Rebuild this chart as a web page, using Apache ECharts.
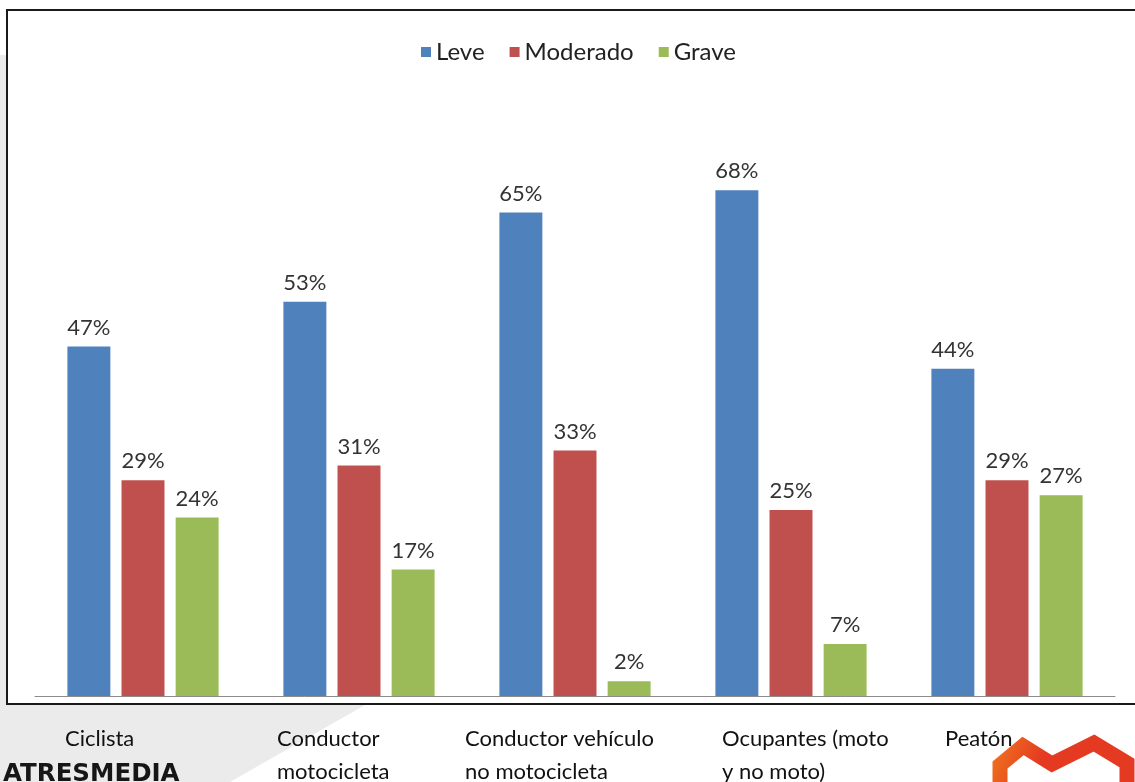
<!DOCTYPE html>
<html>
<head>
<meta charset="utf-8">
<script src="https://cdn.jsdelivr.net/npm/echarts@6/dist/echarts.min.js"></script>
<style>
html,body{margin:0;padding:0;background:#fff;}
#main{width:1135px;height:782px;}
</style>
</head>
<body>
<div id="main"></div>
<script>
const categories = ['Ciclista', 'Conductor\nmotocicleta', 'Conductor vehículo\nno motocicleta', 'Ocupantes (moto\ny no moto)', 'Peatón'];
const seriesNames = ['Leve', 'Moderado', 'Grave'];
const leve = [47, 53, 65, 68, 44];
const moderado = [29, 31, 33, 25, 29];
const grave = [24, 17, 2, 7, 27];
const colors = ['#4f81bd', '#c0504d', '#9bbb59'];
// horizontal nudges for the category text blocks (left padding, px)
const labelPads = [32, 28, 0, 41, 48];

const FONT = 'Lato';
const chart = echarts.init(document.getElementById('main'), null, {renderer: 'canvas'});

const labelStyle = {
  show: true, position: 'top', distance: 8,
  formatter: '{c}%', color: '#333', fontFamily: FONT, fontSize: 22
};

function bar(name, data, color) {
  return {
    name: name, type: 'bar', data: data,
    xAxisIndex: 0, yAxisIndex: 0,
    itemStyle: {color: color},
    barGap: '26%', barCategoryGap: '30%',
    label: labelStyle
  };
}

const rich = {};
labelPads.forEach((p, i) => {
  rich['s' + i] = {padding: [0, 0, 0, p], fontFamily: FONT, fontSize: 22, color: '#111', lineHeight: 33, align: 'left'};
});

chart.setOption({
  animation: false,
  backgroundColor: '#fff',
  color: colors,
  legend: {
    left: 416, top: 35,
    itemWidth: 10, itemHeight: 10, itemGap: 25,
    icon: 'rect',
    textStyle: {fontFamily: FONT, fontSize: 24, color: '#222'},
    data: seriesNames
  },
  grid: [
    {left: 35, right: 20, top: 101, bottom: 86, outerBoundsMode: 'none'},
    {left: 33, right: 238, top: 101, bottom: 86, outerBoundsMode: 'none'}
  ],
  xAxis: [
    {
      type: 'category', gridIndex: 0, data: categories,
      axisLine: {show: true, lineStyle: {color: '#8c8c8c', width: 1}},
      axisTick: {show: false},
      axisLabel: {show: false}
    },
    {
      type: 'category', gridIndex: 1, data: categories, boundaryGap: false,
      axisLine: {show: false},
      axisTick: {show: false},
      axisLabel: {
        show: true, align: 'left', verticalAlign: 'top', margin: 26, interval: 0,
        fontFamily: FONT, fontSize: 22, color: '#111', lineHeight: 33,
        formatter: (v, i) => v.split('\n').map(l => '{s' + i + '|' + l + '}').join('\n'),
        rich: rich
      }
    }
  ],
  yAxis: [
    {type: 'value', gridIndex: 0, min: 0, max: 80, show: false, splitLine: {show: false}},
    {type: 'value', gridIndex: 1, min: 0, max: 80, show: false, splitLine: {show: false}}
  ],
  graphic: [
    {type: 'polygon', z: -20, silent: true,
     shape: {points: [[0, 55], [0, 782], [230, 782], [365, 705], [365, 55]]},
     style: {fill: '#ebebeb'}},
    {type: 'rect', z: -10, silent: true,
     shape: {x: 7, y: 10, width: 1140, height: 694},
     style: {fill: '#ffffff', stroke: '#1a1a1a', lineWidth: 2}},
    {type: 'text', z: 100, silent: true, left: 3, top: 762,
     style: {text: 'ATRESMEDIA', fill: '#161616', font: 'bold 24.5px "DejaVu Sans"'}},
    {type: 'polyline', z: 100, silent: true,
     shape: {points: [[1000, 790], [1000, 765], [1023, 746], [1052, 764], [1094, 743], [1127, 763], [1127, 790]]},
     style: {stroke: {type: 'linear', x: 0, y: 0, x2: 1, y2: 1,
       colorStops: [{offset: 0, color: '#f07a1c'}, {offset: 0.35, color: '#e53a22'}, {offset: 1, color: '#e53a22'}]},
       lineWidth: 15, fill: null, lineJoin: 'miter'}}
  ],
  series: [
    bar('Leve', leve, colors[0]),
    bar('Moderado', moderado, colors[1]),
    bar('Grave', grave, colors[2])
  ]
});
</script>
</body>
</html>
